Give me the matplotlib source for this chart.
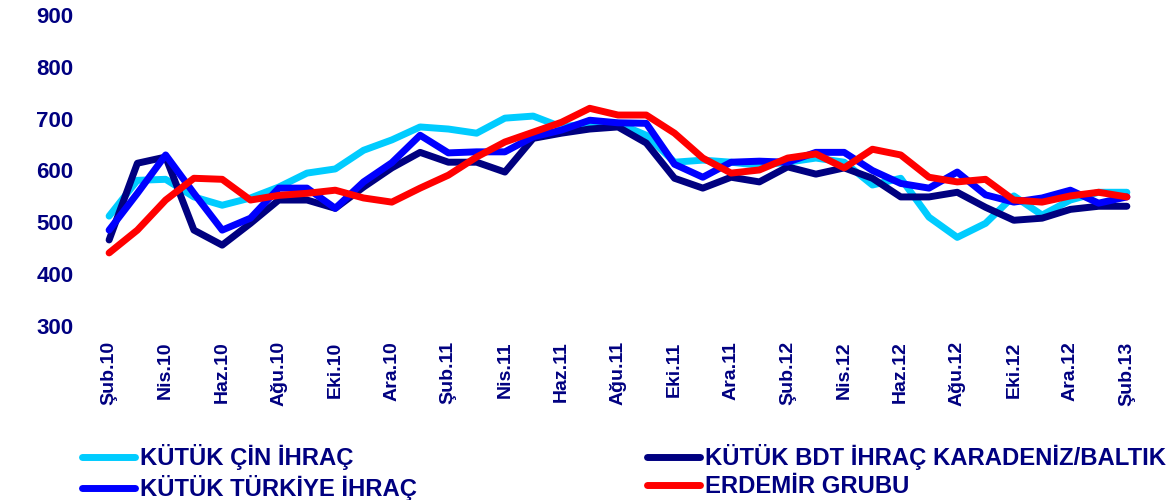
import numpy as np
import matplotlib
matplotlib.use("Agg")
import matplotlib.pyplot as plt

plt.rcParams['font.family'] = ['Liberation Sans', 'DejaVu Sans']

# monthly data, Şub.10 .. Şub.13
months = ["Oca", "Şub", "Mar", "Nis", "May", "Haz", "Tem", "Ağu", "Eyl", "Eki", "Kas", "Ara"]
labels = []
for k in range(37):
    m = (1 + k) % 12
    yr = 10 + (1 + k) // 12
    labels.append("%s.%d" % (months[m], yr))

cin = [512, 581, 583, 549, 533, 547, 568, 595, 603, 639, 659, 684, 680, 672, 701, 705,
       684, 691, 691, 668, 616, 620, 616, 610, 616, 624, 616, 572, 585, 510, 471, 498,
       551, 514, 543, 558, 558]
bdt = [466, 614, 626, 485, 456, 498, 543, 543, 527, 568, 605, 635, 616, 616, 597, 662,
       672, 680, 684, 653, 585, 566, 587, 578, 607, 593, 605, 585, 549, 549, 558, 529,
       504, 508, 525, 531, 531]
turkiye = [485, 556, 630, 556, 485, 508, 566, 566, 527, 578, 615, 668, 634, 636, 636, 665,
           678, 697, 692, 691, 612, 587, 616, 618, 616, 635, 635, 600, 575, 566, 597, 553,
           539, 547, 562, 537, 549]
erdemir = [441, 485, 543, 585, 583, 543, 552, 556, 562, 547, 539, 566, 591, 626, 655, 674,
           693, 720, 707, 707, 672, 624, 595, 601, 624, 632, 605, 641, 630, 587, 578, 583,
           543, 539, 551, 558, 549]

names = ["KÜTÜK ÇİN İHRAÇ", "KÜTÜK BDT İHRAÇ KARADENİZ/BALTIK", "KÜTÜK TÜRKİYE İHRAÇ", "ERDEMİR GRUBU"]
colors = ["#00CCFF", "#000080", "#0000FF", "#FF0000"]
navy = "#000080"

fig = plt.figure(figsize=(11.71, 5.0), dpi=100)
ax = fig.add_axes([0.0811, 0.348, 0.8933, 0.622])

x = np.arange(len(labels))
lines = []
for vals, name, c in zip([cin, bdt, turkiye, erdemir], names, colors):
    ln, = ax.plot(x, vals, color=c, lw=5, label=name,
                  solid_joinstyle='round', solid_capstyle='round')
    lines.append(ln)

ax.set_xlim(-0.5, 36.5)
ax.set_ylim(300, 900)
ax.set_yticks(np.arange(300, 901, 100))
ax.set_xticks(x[::2])
ax.set_xticklabels(labels[::2], rotation=90)
for s in ax.spines.values():
    s.set_visible(False)
ax.tick_params(axis='y', length=0, pad=15.5, labelsize=16, labelcolor=navy)
ax.tick_params(axis='x', length=0, pad=11, labelsize=14, labelcolor=navy)
for t in ax.get_xticklabels() + ax.get_yticklabels():
    t.set_fontweight('bold')

# legend filled column-first: reorder so rows read ÇİN/BDT, TÜRKİYE/ERDEMİR
order = [0, 2, 1, 3]
leg = fig.legend([lines[i] for i in order], [names[i] for i in order],
                 loc='upper left', bbox_to_anchor=(0.0596, 0.136), ncol=2,
                 frameon=False, handlelength=2.25, handletextpad=0.2,
                 columnspacing=9.6, labelspacing=0.22, borderpad=0,
                 prop={'weight': 'bold', 'size': 17.2})
for t in leg.get_texts():
    t.set_color(navy)

fig.savefig("out.png", dpi=100)
